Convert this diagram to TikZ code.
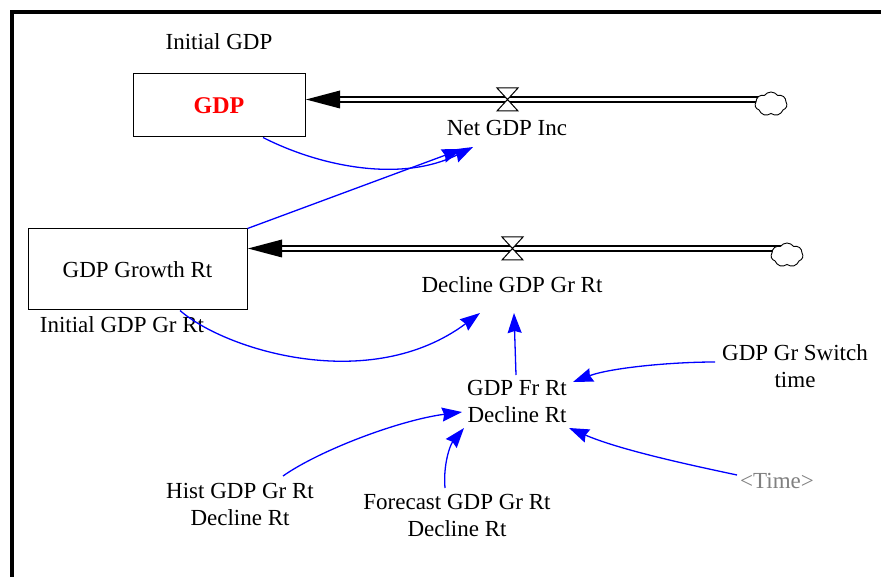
\documentclass[tikz,border=0pt]{standalone}
\usepackage{fontspec}
\setmainfont{Liberation Serif}
\usetikzlibrary{arrows.meta,shapes.symbols,calc}
\definecolor{linkblue}{RGB}{0,0,255}
\definecolor{timegray}{RGB}{128,128,128}
\definecolor{gdpred}{RGB}{255,0,0}
\begin{document}
\begin{tikzpicture}[x=1pt,y=-1pt,
  txt/.style={font=\fontsize{23}{27}\selectfont, align=center, inner sep=0pt},
  stock/.style={draw, line width=1pt, inner sep=0pt, font=\fontsize{23}{27}\selectfont},
  pipe/.style={draw=black, double=white, double distance=3.2pt, line width=1.5pt},
  valveline/.style={draw=black, line width=1pt, fill=white},
  link/.style={draw=linkblue, line width=1.3pt, -{Stealth[length=20pt,width=14pt,inset=2pt]}},
  cloudnode/.style={cloud, cloud puffs=7, cloud puff arc=110, aspect=1.35, draw, line width=0.9pt, fill=white, minimum width=32pt, minimum height=24pt, inner sep=0pt}
]
\useasboundingbox (0,0) rectangle (881,577);
% frame
\draw[line width=4pt] (11.5,577) -- (11.5,12.5) -- (881,12.5);

% stocks
\node[stock, minimum width=172pt, minimum height=63pt, text=gdpred, font=\fontsize{24}{27}\selectfont\bfseries] (gdp) at (219,105.5) {GDP};
\node[txt] (initgdp) at (219,42) {Initial GDP};
\node[stock, minimum width=219pt, minimum height=81pt] (gdpg) at (137.5,269.5) {GDP Growth Rt};
\node[txt] (initgr) at (122,325) {Initial GDP Gr Rt};

% flow 1
\coordinate (v1) at (507.5,99.5);
\coordinate (c1) at (771,104);
\draw[pipe] (c1 |- v1) -- ($(gdp.east |- v1)+(34,0)$);
\fill ($(gdp.east |- v1)+(0.5,0)$) -- ++(34,-9) -- ++(0,18) -- cycle;
\node[cloudnode] (cloud1) at (c1) {};
\draw[valveline] (v1) ++(-10.5,-11.5) -- ++(21,0) -- ++(-21,23) -- ++(21,0) -- cycle;
\node[txt] (ngi) at (507,128) {Net GDP Inc};

% flow 2
\coordinate (v2) at (512.5,248.5);
\coordinate (c2) at (787,255);
\draw[pipe] (c2 |- v2) -- ($(gdpg.east |- v2)+(34,0)$);
\fill ($(gdpg.east |- v2)+(0.5,0)$) -- ++(34,-9) -- ++(0,18) -- cycle;
\node[cloudnode] (cloud2) at (c2) {};
\draw[valveline] (v2) ++(-10.5,-11.5) -- ++(21,0) -- ++(-21,23) -- ++(21,0) -- cycle;
\node[txt] (dgr) at (512,285) {Decline GDP Gr Rt};

% auxiliaries
\node[txt] (frd) at (517,401.5) {GDP Fr Rt\\Decline Rt};
\node[txt] (sw) at (795,366.5) {GDP Gr Switch\\time};
\node[txt] (hist) at (240,504.5) {Hist GDP Gr Rt\\Decline Rt};
\node[txt] (fc) at (457,515.5) {Forecast GDP Gr Rt\\Decline Rt};
\node[txt, text=timegray] (time) at (777,481) {<Time>};

% links
\draw[link] ([xshift=44pt]gdp.south) .. controls (323,168) and (403,182) .. ($(ngi)+(-34,19)$);
\draw[link] (gdpg.north east) -- ($(ngi)+(-45,21)$);
\draw[link] ([xshift=42.5pt]gdpg.south) .. controls (225,350) and (370,395) .. ($(dgr)+(-32,28)$);
\draw[link] ($(frd)+(-1,-26.5)$) -- ($(dgr)+(2,28)$);
\draw[link] ($(sw)+(-80,-4.5)$) .. controls (670,362) and (610,368) .. ($(frd)+(56,-19.5)$);
\draw[link] ($(time)+(-40,-6)$) .. controls (690,465) and (620,450) .. ($(frd)+(52,26.5)$);
\draw[link] ($(hist)+(43,-28.5)$) .. controls (320,450) and (400,420) .. ($(frd)+(-55,10.5)$);
\draw[link] ($(fc)+(-12,-27.5)$) .. controls (443,465) and (450,445) .. ($(frd)+(-53,26.5)$);
\end{tikzpicture}
\end{document}
